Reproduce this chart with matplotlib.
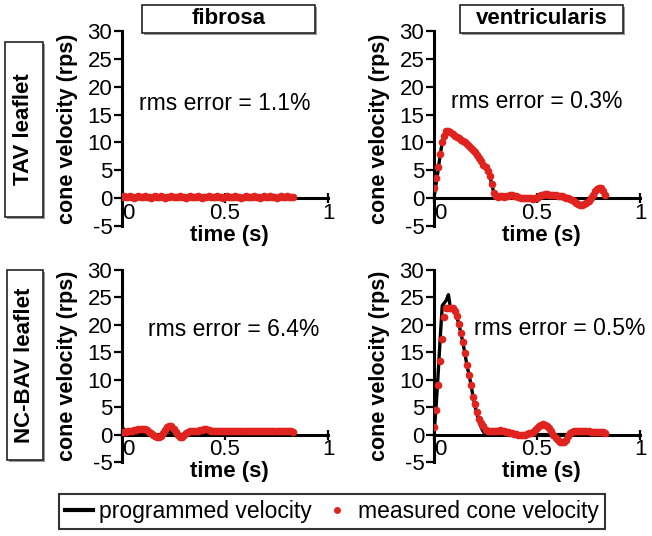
import numpy as np
import matplotlib
matplotlib.use("Agg")
import matplotlib.pyplot as plt
from matplotlib.patches import Rectangle
from matplotlib.lines import Line2D

plt.rcParams["font.family"] = ["Liberation Sans", "DejaVu Sans"]
plt.rcParams["axes.unicode_minus"] = False

# sample times (s) shared by all recordings
t = np.round(np.arange(0, 0.84, 0.01), 2)

# TAV leaflet, fibrosa
tav_fib_meas = [0.2, 0.3, 0.2, 0.2, 0.3, 0.2, 0.1, 0.2, 0.3, 0.2, 0.2, 0.3, 0.2, 0.2, 0.1, 0.2,
                0.3, 0.2, 0.2, 0.3, 0.2, 0.1, 0.2, 0.2, 0.3, 0.2, 0.2, 0.2, 0.3, 0.2, 0.2, 0.1,
                0.2, 0.3, 0.2, 0.2, 0.2, 0.3, 0.2, 0.1, 0.2, 0.2, 0.3, 0.2, 0.2, 0.2, 0.3, 0.2,
                0.2, 0.1, 0.2, 0.3, 0.2, 0.2, 0.2, 0.3, 0.2, 0.2, 0.1, 0.2, 0.3, 0.2, 0.2, 0.2,
                0.3, 0.2, 0.2, 0.1, 0.2, 0.3, 0.2, 0.2, 0.3, 0.2, 0.2, 0.1, 0.2, 0.3, 0.2, 0.2,
                0.3, 0.2, 0.2, 0.2]
tav_fib_prog = [0.0] * 84

# TAV leaflet, ventricularis
tav_ven_meas = [1.8, 3.7, 5.5, 8.0, 10.0, 11.2, 12.0, 12.1, 11.9, 11.5, 11.1, 11.0, 10.8, 10.5,
                10.2, 10.0, 9.7, 9.3, 9.0, 8.6, 8.2, 7.7, 7.2, 6.6, 6.0, 5.5, 4.9, 4.0, 2.6, 1.0,
                0.3, 0.2, 0.3, 0.3, 0.2, 0.3, 0.4, 0.5, 0.5, 0.4, 0.3, 0.2, 0.1, 0.0, 0.0, 0.1,
                0.1, 0.0, -0.1, 0.0, 0.1, 0.3, 0.5, 0.6, 0.7, 0.7, 0.6, 0.6, 0.5, 0.5, 0.4, 0.3,
                0.3, 0.2, 0.1, 0.0, -0.2, -0.4, -0.6, -0.9, -1.1, -1.2, -1.2, -1.1, -0.9, -0.5,
                0.0, 0.6, 1.2, 1.7, 1.9, 1.8, 1.3, 0.6]
tav_ven_prog = [0.0, 2.5, 5.0, 7.8, 10.0, 11.5, 12.2, 12.2, 11.9, 11.5, 11.1, 11.0, 10.8, 10.5,
                10.2, 10.0, 9.7, 9.3, 9.0, 8.6, 8.2, 7.7, 7.2, 6.6, 6.0, 5.5, 4.9, 4.0, 2.6, 1.0,
                0.0, 0.2, 0.3, 0.3, 0.2, 0.3, 0.4, 0.5, 0.5, 0.4, 0.3, 0.2, 0.1, 0.0, 0.0, 0.1,
                0.1, 0.0, -0.1, 0.0, 0.1, 0.3, 0.5, 0.6, 0.7, 0.7, 0.6, 0.6, 0.5, 0.5, 0.4, 0.3,
                0.3, 0.2, 0.1, 0.0, -0.2, -0.4, -0.6, -0.9, -1.1, -1.2, -1.2, -1.1, -0.9, -0.5,
                0.0, 0.6, 1.2, 1.7, 1.9, 1.8, 1.3, 0.6]

# NC-BAV leaflet, fibrosa
bav_fib_meas = [0.5, 0.5, 0.5, 0.6, 0.6, 0.7, 0.8, 0.9, 1.0, 1.1, 1.1, 1.0, 0.8, 0.5, 0.2, 0.0,
                -0.3, -0.5, -0.5, -0.2, 0.3, 0.9, 1.4, 1.6, 1.5, 1.0, 0.4, -0.1, -0.4, -0.4, -0.1,
                0.3, 0.5, 0.6, 0.6, 0.6, 0.7, 0.7, 0.8, 0.9, 1.0, 1.0, 0.9, 0.7, 0.6, 0.6, 0.6,
                0.6, 0.6, 0.6, 0.6, 0.6, 0.6, 0.6, 0.6, 0.6, 0.6, 0.6, 0.6, 0.6, 0.6, 0.6, 0.6,
                0.6, 0.6, 0.6, 0.6, 0.6, 0.6, 0.6, 0.6, 0.6, 0.6, 0.6, 0.6, 0.6, 0.6, 0.6, 0.6,
                0.6, 0.6, 0.6, 0.6, 0.5]
bav_fib_prog = [0.0, 1.0, 0.0, 0.0, 0.0, 0.0, 0.0, 0.0, 0.0, 0.0, 0.0, 0.0, 0.0, 0.0, 0.0, 0.0,
                0.0, 0.0, 0.0, 0.0, 0.0, 0.0, 0.3, 0.6, 0.3, 0.0, 0.0, 0.0, 0.0, 0.0, 0.0, 0.0,
                0.0, 0.0, 0.0, 0.0, 0.0, 0.0, 0.0, 0.0, 0.0, 0.0, 0.0, 0.0, 0.0, 0.0, 0.0, 0.0,
                0.0, 0.0, 0.0, 0.0, 0.0, 0.0, 0.0, 0.0, 0.0, 0.0, 0.0, 0.0, 0.0, 0.0, 0.0, 0.0,
                0.0, 0.0, 0.0, 0.0, 0.0, 0.0, 0.0, 0.0, 0.0, 0.0, 0.0, 0.0, 0.0, 0.0, 0.0, 0.0,
                0.0, 0.0, 0.0, 0.0]

# NC-BAV leaflet, ventricularis
bav_ven_meas = [1.3, 4.5, 9.0, 13.5, 17.5, 21.5, 23.0, 23.1, 23.0, 23.0, 22.6, 21.6, 20.2, 18.6,
                16.8, 14.8, 12.6, 10.9, 9.0, 6.8, 5.5, 4.1, 2.9, 2.2, 1.5, 0.9, 0.6, 0.6, 0.6,
                0.7, 0.7, 0.7, 0.8, 0.7, 0.6, 0.5, 0.4, 0.3, 0.2, 0.1, 0.1, 0.0, 0.0, 0.0, 0.0,
                0.1, 0.2, 0.3, 0.5, 0.8, 1.2, 1.5, 1.8, 1.9, 1.8, 1.6, 1.2, 0.6, 0.0, -0.6, -1.0,
                -1.3, -1.4, -1.3, -0.9, -0.3, 0.2, 0.5, 0.6, 0.7, 0.7, 0.7, 0.7, 0.6, 0.6, 0.6,
                0.5, 0.5, 0.5, 0.5, 0.4, 0.4, 0.4, 0.3]
bav_ven_prog = [0.0, 5.0, 11.0, 17.5, 23.5, 24.0, 24.5, 25.5, 23.0, 22.8, 22.4, 21.6, 20.2, 18.6,
                16.8, 14.8, 12.6, 10.9, 9.0, 6.8, 5.0, 3.5, 2.2, 1.2, 0.5, 0.0, 0.0, 0.0, 0.0,
                0.0, 0.0, 0.0, 0.0, 0.0, 0.0, 0.0, 0.0, 0.0, 0.0, 0.0, 0.0, 0.0, 0.0, 0.0, 0.0,
                0.0, 0.0, 0.0, 0.0, 0.0, 0.0, 0.0, 0.0, 0.0, 0.0, 0.0, 0.0, 0.0, 0.0, 0.0, 0.0,
                0.0, 0.0, 0.0, 0.0, 0.0, 0.0, 0.0, 0.0, 0.0, 0.0, 0.0, 0.0, 0.0, 0.0, 0.0, 0.0,
                0.0, 0.0, 0.0, 0.0, 0.0, 0.0, 0.0]

rms_text = ["rms error = 1.1%", "rms error = 0.3%", "rms error = 6.4%", "rms error = 0.5%"]
rms_pos = [(0.5, 17), (0.5, 17.4), (0.54, 19.2), (0.61, 19.3)]
col_titles = ["fibrosa", "ventricularis"]
row_titles = ["TAV leaflet", "NC-BAV leaflet"]

RED = "#e0231f"
W, H = 652, 536

fig = plt.figure(figsize=(W / 100, H / 100), dpi=100)


def fx(px):
    return px / W


def fy(py):
    return 1 - py / H


def boxed(x0, y0, x1, y1, text, rot):
    # pixel coordinates from the top-left corner
    shadow = Rectangle((fx(x0 + 2), fy(y1 + 2)), fx(x1 - x0), (y1 - y0) / H,
                       transform=fig.transFigure, facecolor="#9a9a9a", edgecolor="none")
    box = Rectangle((fx(x0), fy(y1)), fx(x1 - x0), (y1 - y0) / H,
                    transform=fig.transFigure, facecolor="white", edgecolor="#222222", lw=1.2)
    fig.add_artist(shadow)
    fig.add_artist(box)
    fig.text(fx((x0 + x1) / 2), fy((y0 + y1) / 2), text, rotation=rot, ha="center",
             va="center", fontsize=16, fontweight="bold")


def plot_panel(ax, meas, prog, label, pos):
    ax.plot(t, prog, color="black", lw=2.4, zorder=2)
    ax.plot(t, meas, "o", color=RED, ms=5.5, mec="none", zorder=3)
    ax.set_xlim(0, 1)
    ax.set_ylim(-5, 30)
    ax.spines["top"].set_visible(False)
    ax.spines["right"].set_visible(False)
    ax.spines["bottom"].set_position(("data", 0))
    ax.spines["left"].set_linewidth(2.2)
    ax.spines["bottom"].set_linewidth(2.2)
    ax.set_yticks(range(-5, 31, 5))
    ax.set_xticks([0, 0.5, 1], labels=["0", "0.5", "1"])
    ax.get_xticklabels()[0].set_horizontalalignment("left")
    ax.tick_params(axis="y", direction="out", length=6, width=1.6, labelsize=16, pad=1)
    ax.tick_params(axis="x", direction="inout", length=7, width=1.6, labelsize=16, pad=0)
    ax.set_ylabel("cone velocity (rps)", fontsize=15.5, fontweight="bold", va="center")
    ax.yaxis.set_label_coords(-0.265, 0.5)
    ax.set_xlabel("time (s)", fontsize=16, fontweight="bold")
    ax.xaxis.set_label_coords(0.52, -0.05)
    ax.xaxis.label.set_va("center")
    ax.text(pos[0], pos[1], label, ha="center", va="center", fontsize=16.5)


panels = [
    (122, 31, 328, 226, tav_fib_meas, tav_fib_prog),
    (434, 31, 640, 226, tav_ven_meas, tav_ven_prog),
    (122, 270, 328, 462, bav_fib_meas, bav_fib_prog),
    (434, 270, 640, 462, bav_ven_meas, bav_ven_prog),
]
for i, (x0, y0, x1, y1, meas, prog) in enumerate(panels):
    ax = fig.add_axes([fx(x0), fy(y1), fx(x1 - x0), (y1 - y0) / H])
    plot_panel(ax, meas, prog, rms_text[i], rms_pos[i])

boxed(142, 5, 315, 33, col_titles[0], 0)
boxed(460, 5, 623, 33, col_titles[1], 0)
boxed(5, 42, 43, 217, row_titles[0], 90)
boxed(7, 270, 43, 460, row_titles[1], 90)

handles = [Line2D([], [], color="black", lw=3),
           Line2D([], [], ls="none", marker="o", color=RED, ms=5, mec="none")]
leg = fig.legend(handles, ["programmed velocity", "measured cone velocity"], ncol=2,
                 loc="center", bbox_to_anchor=(fx(332), fy(511.5)), fontsize=16.5,
                 frameon=True, fancybox=False, edgecolor="black", handlelength=1.2,
                 handletextpad=0.3, columnspacing=0.5, borderpad=0.25)
leg.get_frame().set_linewidth(1.5)

fig.savefig("out.png", dpi=100)
